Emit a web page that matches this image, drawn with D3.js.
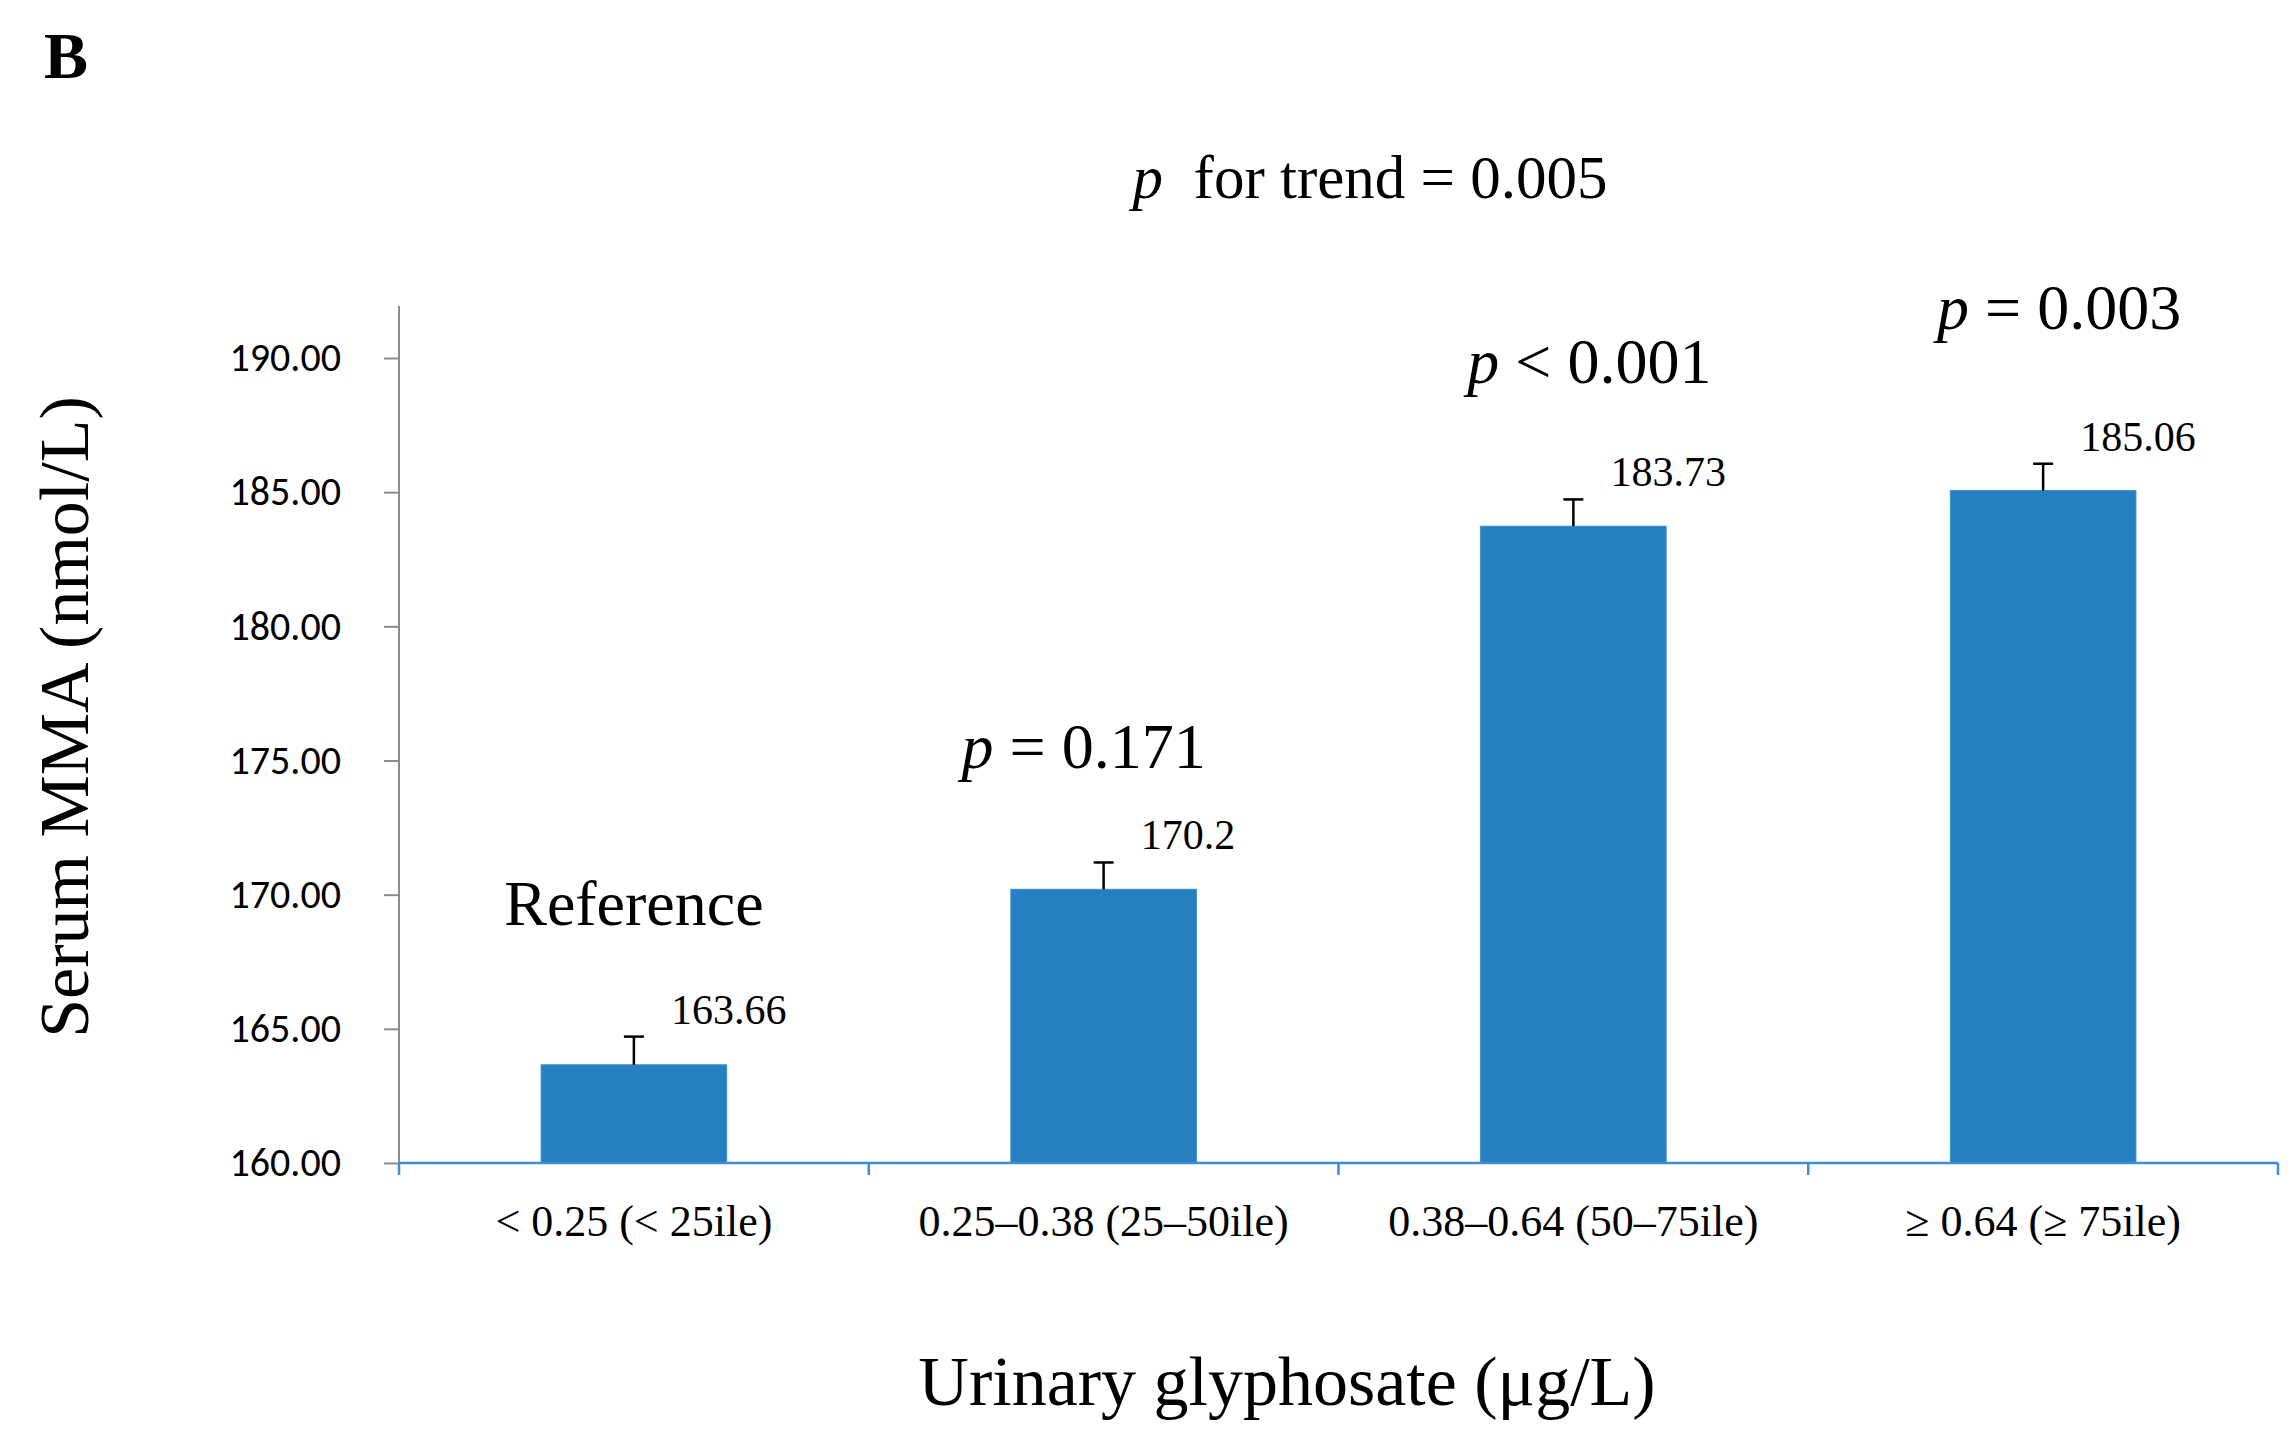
<!DOCTYPE html>
<html>
<head>
<meta charset="utf-8">
<script src="https://cdn.jsdelivr.net/npm/d3@7"></script>
<style>
  body { margin: 0; background: #fff; }
  text { fill: #000; }
</style>
</head>
<body>
<div id="container"></div>
<script>
// data
const categories = [ '< 0.25 (< 25ile)', '0.25–0.38 (25–50ile)', '0.38–0.64 (50–75ile)', '≥ 0.64 (≥ 75ile)' ];
const means = [ 163.66, 170.2, 183.73, 185.06 ];
const errors = [ 1.05, 1.0, 1.0, 1.0 ];
const valueLabels = [ '163.66', '170.2', '183.73', '185.06' ];
const pLabels = [ [ '', 'Reference' ], [ 'p', ' = 0.171' ], [ 'p', ' < 0.001' ], [ 'p', ' = 0.003' ] ];
const yTicks = [ 160, 165, 170, 175, 180, 185, 190 ];

const W = 2294, H = 1443;
const serif = '"Liberation Serif", "Times New Roman", serif';
const sans = 'Carlito, "Liberation Sans", "Open Sans", sans-serif';

const svg = d3.select( '#container' ).append( 'svg' )
  .attr( 'width', W ).attr( 'height', H );

//_____ SCALES _____
const x = d3.scaleBand().domain( categories ).range( [ 399, 2278 ] ).paddingInner( 0.605 ).paddingOuter( 0.3025 );
const y = d3.scaleLinear().domain( [ 160, 190 ] ).range( [ 1163, 358 ] );
const plotTop = 306;

//_____ Y AXIS _____
const yAxis = svg.append( 'g' ).attr( 'transform', 'translate(399,0)' )
  .call( d3.axisLeft( y ).tickValues( yTicks ).tickFormat( d3.format( '.2f' ) ).tickSize( 15 ).tickSizeOuter( 0 ) );
yAxis.select( '.domain' ).remove();
yAxis.selectAll( '.tick line' ).attr( 'stroke', '#8c8c8c' ).attr( 'stroke-width', 2 );
yAxis.selectAll( '.tick text' ).attr( 'x', -58 ).style( 'font-family', sans ).style( 'font-size', '40px' ).style( 'fill', '#000' );
svg.append( 'line' ).attr( 'x1', 399 ).attr( 'x2', 399 ).attr( 'y1', plotTop ).attr( 'y2', 1163 )
  .attr( 'stroke', '#8c8c8c' ).attr( 'stroke-width', 2 );

//_____ BARS _____
svg.selectAll( '.bar' ).data( categories ).enter().append( 'rect' )
  .attr( 'x', d => x( d ) )
  .attr( 'y', ( d, i ) => y( means[ i ] ) )
  .attr( 'width', x.bandwidth() )
  .attr( 'height', ( d, i ) => y( 160 ) - y( means[ i ] ) )
  .attr( 'fill', '#2680c0' )
  .attr( 'stroke', '#3a8fd0' ).attr( 'stroke-width', 1 );

//_____ ERROR BARS _____
categories.forEach( ( c, i ) => {
  const cx = x( c ) + x.bandwidth() / 2;
  const top = y( means[ i ] + errors[ i ] );
  svg.append( 'line' ).attr( 'x1', cx ).attr( 'x2', cx ).attr( 'y1', y( means[ i ] ) ).attr( 'y2', top )
    .attr( 'stroke', '#000' ).attr( 'stroke-width', 2.5 );
  svg.append( 'line' ).attr( 'x1', cx - 10 ).attr( 'x2', cx + 10 ).attr( 'y1', top ).attr( 'y2', top )
    .attr( 'stroke', '#000' ).attr( 'stroke-width', 2.5 );
  svg.append( 'text' ).attr( 'x', cx + 37 ).attr( 'y', top - 13 )
    .style( 'font-family', serif ).style( 'font-size', '42px' ).text( valueLabels[ i ] );
} );

//_____ X AXIS _____
const xAxis = svg.append( 'g' ).attr( 'transform', 'translate(0,1163)' );
xAxis.append( 'line' ).attr( 'x1', 399 ).attr( 'x2', 2278 ).attr( 'stroke', '#3d8ed6' ).attr( 'stroke-width', 2.5 );
const bounds = [ 399 ].concat( categories.map( c => x( c ) + x.bandwidth() + x.step() * x.paddingInner() / 2 ) );
bounds[ bounds.length - 1 ] = 2278;
bounds.forEach( b => xAxis.append( 'line' ).attr( 'x1', b ).attr( 'x2', b ).attr( 'y1', 0 ).attr( 'y2', 12 )
  .attr( 'stroke', '#3d8ed6' ).attr( 'stroke-width', 2.5 ) );
categories.forEach( c => xAxis.append( 'text' ).attr( 'x', x( c ) + x.bandwidth() / 2 ).attr( 'y', 73 )
  .attr( 'text-anchor', 'middle' ).style( 'font-family', serif ).style( 'font-size', '44px' ).text( c ) );

//_____ P ANNOTATIONS _____
const pPos = [ [ 0, 925 ], [ -20, 768 ], [ 16, 383 ], [ 16, 329 ] ];
pLabels.forEach( ( p, i ) => {
  const t = svg.append( 'text' )
    .attr( 'x', x( categories[ i ] ) + x.bandwidth() / 2 + pPos[ i ][ 0 ] ).attr( 'y', pPos[ i ][ 1 ] )
    .attr( 'text-anchor', 'middle' ).style( 'font-family', serif ).style( 'font-size', '64px' );
  if ( p[ 0 ] ) t.append( 'tspan' ).style( 'font-style', 'italic' ).text( p[ 0 ] );
  t.append( 'tspan' ).text( p[ 1 ] );
} );

//_____ TITLES _____
svg.append( 'text' ).attr( 'x', 44 ).attr( 'y', 78 )
  .style( 'font-family', serif ).style( 'font-weight', 'bold' ).style( 'font-size', '66px' ).text( 'B' );

const trend = svg.append( 'text' ).attr( 'x', 1370 ).attr( 'y', 198 ).attr( 'text-anchor', 'middle' )
  .style( 'font-family', serif ).style( 'font-size', '61px' );
trend.append( 'tspan' ).style( 'font-style', 'italic' ).text( 'p' );
trend.append( 'tspan' ).attr( 'xml:space', 'preserve' ).text( '\u00a0 for trend = 0.005' );

svg.append( 'text' ).attr( 'transform', 'translate(88,717) rotate(-90)' ).attr( 'text-anchor', 'middle' )
  .style( 'font-family', serif ).style( 'font-size', '70px' ).text( 'Serum MMA (nmol/L)' );

svg.append( 'text' ).attr( 'x', 1287 ).attr( 'y', 1405 ).attr( 'text-anchor', 'middle' )
  .style( 'font-family', serif ).style( 'font-size', '70px' ).text( 'Urinary glyphosate (μg/L)' );
</script>
</body>
</html>
